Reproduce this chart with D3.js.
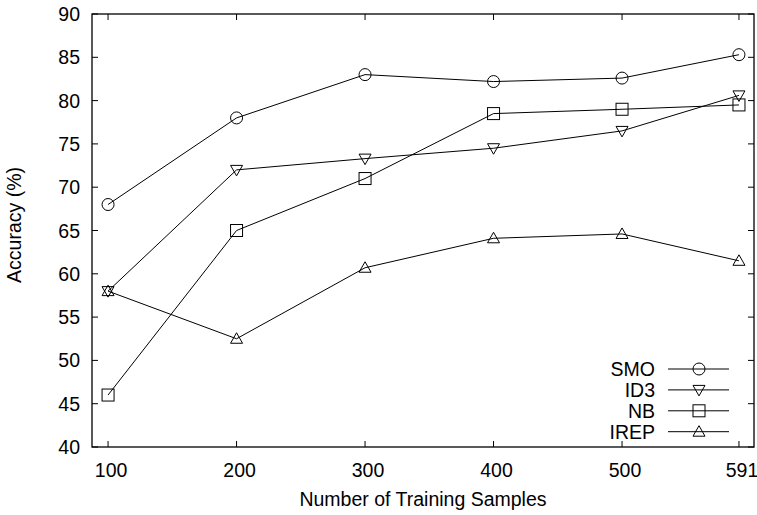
<!DOCTYPE html>
<html>
<head>
<meta charset="utf-8">
<script src="https://cdn.jsdelivr.net/npm/d3@7"></script>
<style>
  body { margin: 0; background: #fff; }
  text { font-family: "Liberation Sans", Arial, sans-serif; fill: #000; }
</style>
</head>
<body>
<div id="chart"></div>
<script>
var samples = [100, 200, 300, 400, 500, 591];
var xTicks = [100, 200, 300, 400, 500, 591];
var yTicks = [40, 45, 50, 55, 60, 65, 70, 75, 80, 85, 90];

var smo  = [68, 78, 83, 82.2, 82.6, 85.3];
var id3  = [58, 72, 73.3, 74.5, 76.5, 80.6];
var nb   = [46, 65, 71, 78.5, 79, 79.5];
var irep = [58, 52.5, 60.7, 64.1, 64.6, 61.5];

var seriesNames = ["SMO", "ID3", "NB", "IREP"];
var seriesVals = [smo, id3, nb, irep];
var seriesMarks = ["circle", "tridown", "square", "triup"];

var W = 757, H = 515;
var margin = {top: 14, right: 3, bottom: 68, left: 92};
var width = W - margin.left - margin.right,
    height = H - margin.top - margin.bottom;
var fs = "19.5px";

var svg = d3.select("#chart").append("svg")
    .attr("width", W)
    .attr("height", H);

var g = svg.append("g")
    .attr("transform", "translate(" + margin.left + "," + margin.top + ")");

var x = d3.scaleLinear().domain([87.5, 602.7]).range([0, width]);
var y = d3.scaleLinear().domain([40, 90]).range([height, 0]);

// ticks (inside, mirrored)
var tl = 6;
xTicks.forEach(function(t){
    g.append("line").attr("x1", x(t)).attr("x2", x(t)).attr("y1", height).attr("y2", height - tl)
      .attr("stroke", "#000");
    g.append("line").attr("x1", x(t)).attr("x2", x(t)).attr("y1", 0).attr("y2", tl)
      .attr("stroke", "#000");
    g.append("text").attr("x", x(t) + 3).attr("y", height + 30)
      .attr("text-anchor", "middle").style("font-size", fs).text(t);
});
yTicks.forEach(function(t){
    g.append("line").attr("x1", 0).attr("x2", tl).attr("y1", y(t)).attr("y2", y(t))
      .attr("stroke", "#000");
    g.append("line").attr("x1", width).attr("x2", width - tl).attr("y1", y(t)).attr("y2", y(t))
      .attr("stroke", "#000");
    g.append("text").attr("x", -12).attr("y", y(t) + 7)
      .attr("text-anchor", "end").style("font-size", fs).text(t);
});

g.append("rect")
    .attr("width", width).attr("height", height)
    .attr("fill", "none").attr("stroke", "#000").attr("stroke-width", 1.3);

// axis labels
g.append("text")
    .attr("x", width / 2).attr("y", height + 59)
    .attr("text-anchor", "middle").style("font-size", fs)
    .text("Number of Training Samples");

svg.append("text")
    .attr("transform", "translate(" + 21 + "," + 225 + ") rotate(-90)")
    .attr("text-anchor", "middle").style("font-size", fs)
    .text("Accuracy (%)");

function drawMarker(sel, type, cx, cy) {
    var s = 6;
    if (type == "circle") {
        sel.append("circle").attr("cx", cx).attr("cy", cy).attr("r", s)
          .attr("fill", "none").attr("stroke", "#000");
    } else if (type == "square") {
        sel.append("rect").attr("x", cx - s).attr("y", cy - s).attr("width", 2 * s).attr("height", 2 * s)
          .attr("fill", "none").attr("stroke", "#000");
    } else if (type == "triup") {
        sel.append("path")
          .attr("d", "M" + (cx - s) + "," + (cy + 4.5) + "L" + (cx + s) + "," + (cy + 4.5) + "L" + cx + "," + (cy - 6) + "Z")
          .attr("fill", "none").attr("stroke", "#000");
    } else {
        sel.append("path")
          .attr("d", "M" + (cx - s) + "," + (cy - 4.5) + "L" + (cx + s) + "," + (cy - 4.5) + "L" + cx + "," + (cy + 6) + "Z")
          .attr("fill", "none").attr("stroke", "#000");
    }
}

var line = d3.line()
    .x(function(d) { return x(d[0]); })
    .y(function(d) { return y(d[1]); });

seriesVals.forEach(function(vals, i){
    var pts = samples.map(function(s, j){ return [s, vals[j]]; });
    g.append("path").datum(pts)
      .attr("d", line)
      .attr("fill", "none").attr("stroke", "#000").attr("stroke-width", 1);
    pts.forEach(function(p){
        drawMarker(g, seriesMarks[i], x(p[0]), y(p[1]));
    });
});

// legend
var legX = 655, legY0 = 369, legStep = 20.9;
seriesNames.forEach(function(name, i){
    var ly = legY0 + i * legStep;
    svg.append("text").attr("x", legX).attr("y", ly + 7)
      .attr("text-anchor", "end").style("font-size", fs).text(name);
    svg.append("line").attr("x1", 668).attr("x2", 729).attr("y1", ly).attr("y2", ly)
      .attr("stroke", "#000");
    drawMarker(svg, seriesMarks[i], 699, ly);
});
</script>
</body>
</html>
